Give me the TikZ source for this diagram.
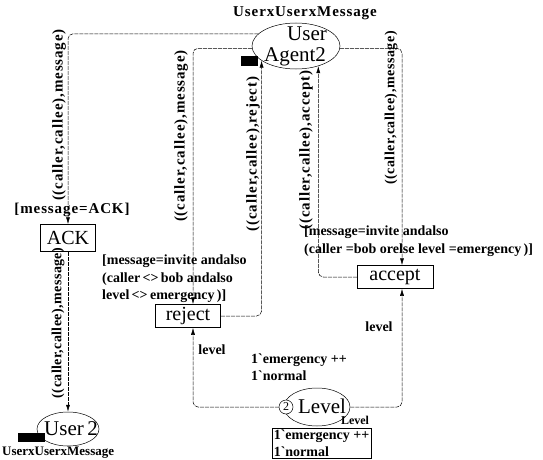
\documentclass[tikz,border=0pt]{standalone}
\usepackage{fontspec}
\setmainfont{Liberation Serif}
\usetikzlibrary{shapes.geometric,arrows.meta}
\font\bqfont="Liberation Serif/B" at 14pt
\newcommand\bq{{\bqfont`}}
\begin{document}
\begin{tikzpicture}[x=1pt,y=-1pt,
  place/.style={draw,ellipse,line width=0.5pt,inner sep=0pt},
  trans/.style={draw,line width=0.5pt,inner sep=0pt,font=\fontsize{20}{22}\selectfont},
  big/.style={font=\fontsize{21}{22}\selectfont,inner sep=0pt},
  arc/.style={line width=0.5pt,dash pattern=on 4pt off 1pt,rounded corners=5pt},
  arr/.style={arc,-{Latex[length=7pt,width=4pt]}},
  insc/.style={font=\bfseries\fontsize{14}{17.5}\selectfont,inner sep=1pt},
  wide/.style={font=\bfseries\fontsize{15}{17}\selectfont\addfontfeature{LetterSpace=6},inner sep=1pt},
  tok/.style={fill=black,inner sep=0pt},
]
\useasboundingbox (0,0) rectangle (543,460);

% places
\node[place,minimum width=88pt,minimum height=46pt] (ua) at (296,46) {};
\node[big] (uat1) at (307,34) {User};
\node[big] (uat2) at (295,57) {Agent2};
\node[tok,minimum width=17pt,minimum height=10pt] (uab) at (249.5,61) {};
\node[wide] (uatype) at (305,13) {UserxUserxMessage};

\node[place,minimum width=62pt,minimum height=34pt] (u2) at (68,429) {};
\node[big] (u2t) at (71,429) {User\,2};
\node[tok,minimum width=27pt,minimum height=9pt] (u2b) at (31.5,437.5) {};
\node[insc,font=\bfseries\fontsize{13}{15}\selectfont,anchor=west] (u2type) at (1,453) {UserxUserxMessage};

\node[place,minimum width=66pt,minimum height=38pt] (lvl) at (317,407) {};
\node[big] (lvlt) at (322,406) {Level};
\node[draw,circle,line width=0.5pt,fill=white,inner sep=0pt,minimum size=14pt,font=\fontsize{12}{12}\selectfont] (two) at (286,407) {2};
\node[insc,font=\bfseries\fontsize{12}{14}\selectfont] (lvltype) at (355,420) {Level};
\node[insc,align=left,anchor=west] (lvlinit) at (250,367) {1\bq emergency ++\\1\bq normal};
\node[insc,draw,line width=0.5pt,align=left,anchor=north west,inner sep=1.5pt,minimum width=88pt] (lvlmark) at (272,428) {1\bq emergency ++\\1\bq normal};

% transitions
\node[trans,minimum width=55pt,minimum height=27pt] (ack) at (68,238) {ACK};
\node[wide] (ackg) at (72,210) {[message=ACK]};

\node[trans,minimum width=65pt,minimum height=23pt] (rej) at (188,316) {reject};
\node[insc,align=left,anchor=west] (rejg) at (101,279) {[message=invite andalso\\(caller\,<>\,bob andalso\\level\,<>\,emergency\,)]};

\node[trans,minimum width=76pt,minimum height=23pt] (acc) at (395,277) {accept};
\node[insc,align=left,anchor=west] (accg) at (303,241) {[message=invite andalso\\(caller =bob orelse level =emergency\,)]};

% arcs
\draw[arr] (ua.162) -| (ack.north);
\draw[arr] (ua.183) -| ([xshift=5pt]rej.north);
\draw[arr] (rej.east) -| (ua.203);
\draw[arr] (acc.west) -| (ua.-42);
\draw[arr] (ua.-3) -| ([xshift=7pt]acc.north);
\draw[arr] (ack.south) -- (u2.north);
\draw[arr] (two.west) -| ([xshift=5pt]rej.south);
\draw[arr] (lvl.east) -| ([xshift=7pt]acc.south);

% arc labels
\node[wide,rotate=90] (l1) at (59,115) {((caller,callee),message)};
\node[wide,rotate=90] (l2) at (181,136) {((caller,callee),message)};
\node[wide,rotate=90] (l3) at (253,154) {((caller,callee),reject)};
\node[wide,rotate=90] (l4) at (306,150) {((caller,callee),accept)};
\node[wide,rotate=90,font=\bfseries\fontsize{14}{16}\selectfont\addfontfeature{LetterSpace=4}] (l5) at (391,108) {((caller,callee),message)};
\node[wide,rotate=90,font=\bfseries\fontsize{14}{16}\selectfont\addfontfeature{LetterSpace=3}] (l6) at (58,323) {((caller,callee),message)};
\node[insc] (l7) at (212,350) {level};
\node[insc] (l8) at (379,327) {level};
\end{tikzpicture}
\end{document}
